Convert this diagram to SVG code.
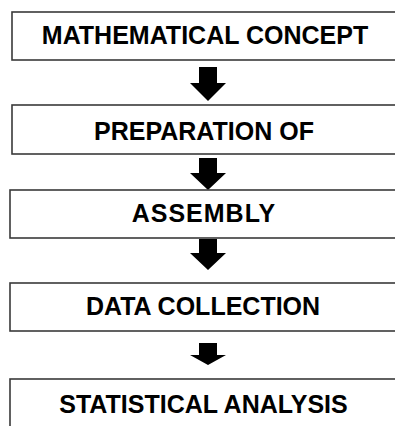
<svg xmlns="http://www.w3.org/2000/svg" width="395" height="426" viewBox="0 0 395 426">
  <style>
    .box { fill: #ffffff; stroke: #3a3a3a; stroke-width: 1.6; }
    .label { font-family: "Liberation Sans", Arial, sans-serif; font-weight: bold; font-size: 25px; fill: #000000; text-anchor: middle; }
    .arrow { fill: #000000; }
  </style>
  <rect width="395" height="426" fill="#ffffff"/>

  <g id="connectors">
    <polygon class="arrow" points="199,67 217,67 217,83 226,83 208,101 190,83 199,83"/>
    <polygon class="arrow" points="199,158 217,158 217,173 226,173 208,190 190,173 199,173"/>
    <polygon class="arrow" points="199,239 217,239 217,253 226,253 208,270 190,253 199,253"/>
    <polygon class="arrow" points="199,343 217,343 217,355 226,355 208,365 190,355 199,355"/>
  </g>

  <g id="mathematical-concept">
    <rect class="box" x="12" y="12" width="400" height="48"/>
    <text class="label" x="205" y="44">MATHEMATICAL CONCEPT</text>
  </g>

  <g id="preparation-of">
    <rect class="box" x="12" y="105" width="400" height="49"/>
    <text class="label" x="204" y="140">PREPARATION OF</text>
  </g>

  <g id="assembly">
    <rect class="box" x="10" y="190" width="400" height="48"/>
    <text class="label" x="204" y="222" letter-spacing="1">ASSEMBLY</text>
  </g>

  <g id="data-collection">
    <rect class="box" x="10" y="283" width="400" height="48"/>
    <text class="label" x="203" y="315">DATA COLLECTION</text>
  </g>

  <g id="statistical-analysis">
    <rect class="box" x="10" y="379" width="400" height="60"/>
    <text class="label" x="203.5" y="413">STATISTICAL ANALYSIS</text>
  </g>
</svg>
